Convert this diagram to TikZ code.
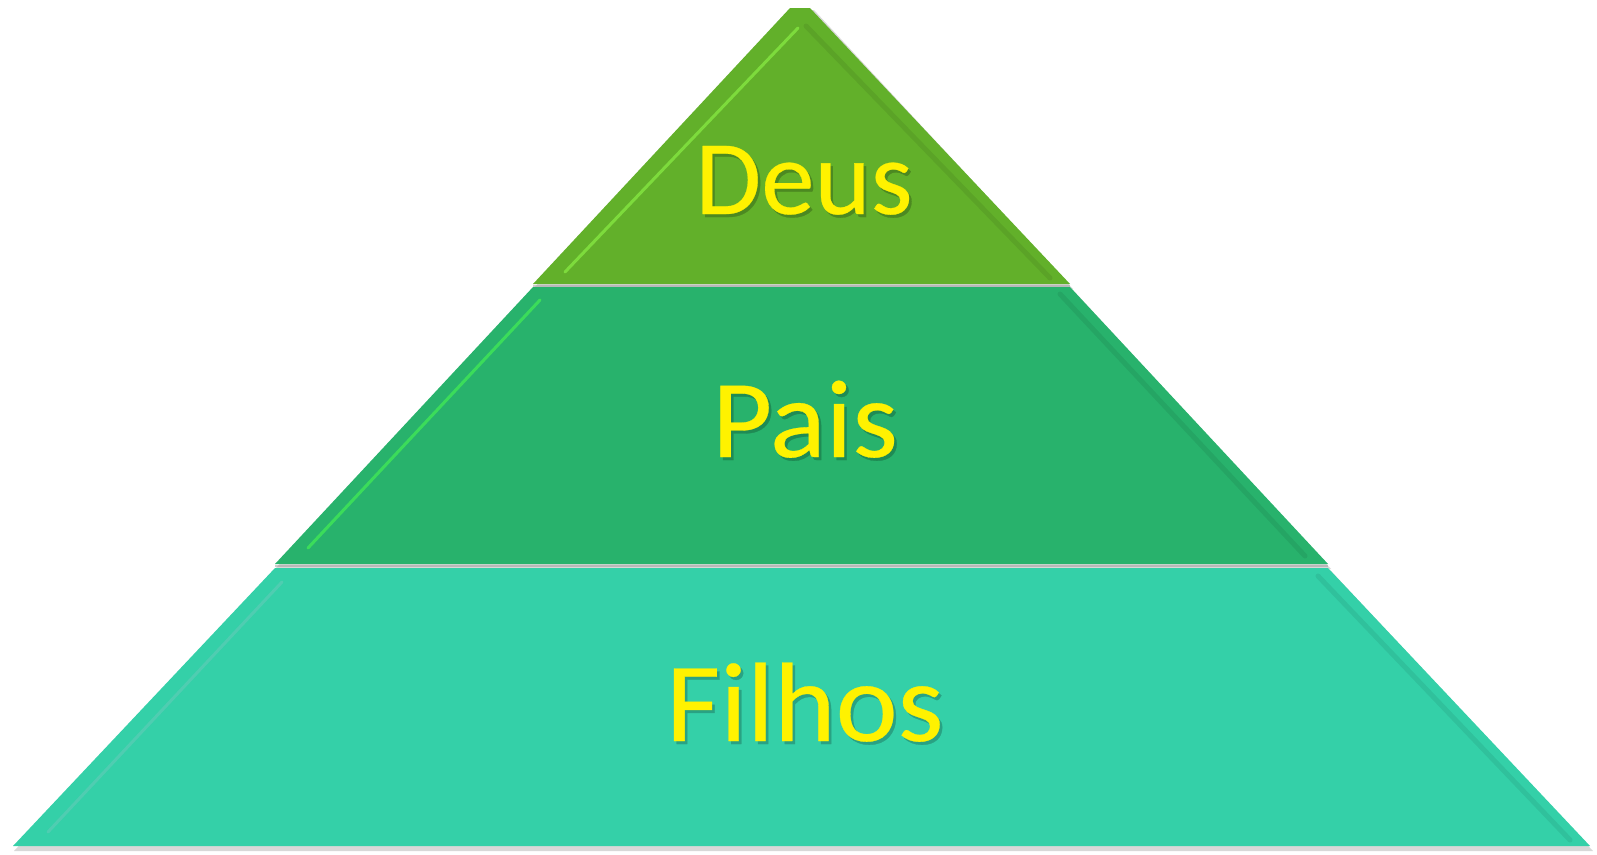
\documentclass[tikz,border=0pt]{standalone}
\usepackage{fontspec}
\setmainfont{Carlito}
\newfontfamily\lblfont[FakeBold=0.25]{Carlito}
\newcommand{\shtext}[2]{\makebox[0pt][l]{\hspace{2.5pt}\raisebox{-3pt}{\textcolor{#1}{#2}}}#2}
\begin{document}
\begin{tikzpicture}[x=1pt,y=-1pt,
  tier/.style={line join=round},
  lbl/.style={text=yellow, anchor=base, inner sep=0pt},
  hilite/.style={line width=3pt, line cap=round, opacity=0.55},
  darkbevel/.style={line width=5pt, line cap=round, opacity=0.07}
]
\useasboundingbox (0,0) rectangle (1597,854);
\definecolor{cTop}{RGB}{98,176,42}
\definecolor{cMid}{RGB}{40,178,108}
\definecolor{cBot}{RGB}{52,208,168}
% shadows
\fill[black!30, opacity=0.5] (794,10) -- (814,10) -- (1073,289) -- (533,289) -- cycle;
\fill[black!30, opacity=0.5] (533,290) -- (1073,290) -- (1331,569) -- (275,569) -- cycle;
\fill[black!30, opacity=0.5] (275,571) -- (1331,571) -- (1593,851) -- (14,851) -- cycle;
% tiers
\fill[cTop, tier] (790,8) -- (810,8) -- (1070,284) -- (533,284) -- cycle;
\fill[cMid, tier] (533,287) -- (1070,287) -- (1328,564) -- (275,564) -- cycle;
\fill[cBot, tier] (275,568) -- (1328,568) -- (1590,846) -- (13,846) -- cycle;
% bevel highlights
\draw[hilite, draw=green!60!yellow!70!white] (798,28) -- (565,272);
\draw[darkbevel, draw=black] (806,26) -- (1050,278);
\draw[hilite, draw=green!70!white] (540,300) -- (308,548);
\draw[darkbevel, draw=black] (1060,294) -- (1305,556);
\draw[hilite, draw=cyan!50!green!60!white] (282,582) -- (48,832);
\draw[darkbevel, draw=black] (1318,576) -- (1570,840);
% separator darker lines
\draw[line width=2pt, draw=black!40, opacity=0.5] (533,285.5) -- (1070,285.5);
\draw[line width=2pt, draw=black!40, opacity=0.5] (275,566) -- (1328,566);
% labels
\node[lbl, xscale=1.01, font=\lblfont\fontsize{106}{106}\selectfont] (deus) at (804,214) {\shtext{cTop!78!black}{Deus}};
\node[lbl, xscale=1.05, font=\lblfont\fontsize{111}{111}\selectfont] (pais) at (805,457) {\shtext{cMid!78!black}{Pais}};
\node[lbl, xscale=1.04, font=\lblfont\fontsize{113}{113}\selectfont] (filhos) at (805,741) {\shtext{cBot!78!black}{Filhos}};
\end{tikzpicture}
\end{document}
